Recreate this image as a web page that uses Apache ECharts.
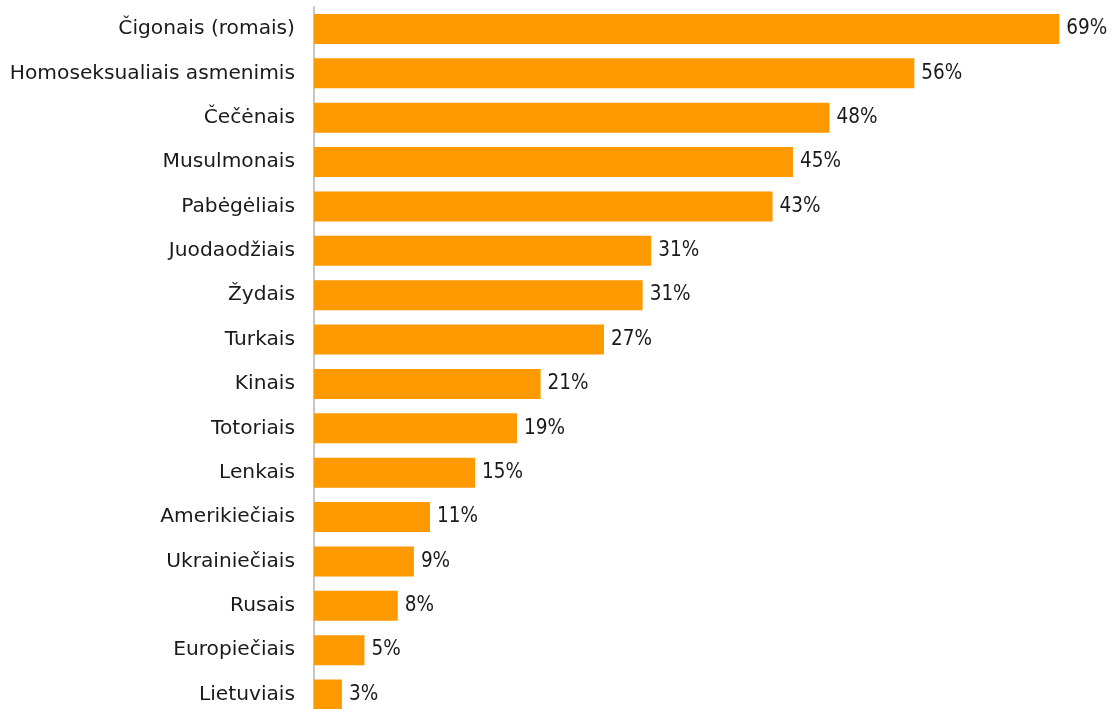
<!DOCTYPE html>
<html>
<head>
<meta charset="utf-8">
<script src="https://cdn.jsdelivr.net/npm/echarts@6/dist/echarts.min.js"></script>
<style>
html,body{margin:0;padding:0;background:#fff;}
#chart{width:1112px;height:709px;}
</style>
</head>
<body>
<div id="chart"></div>
<script>
var categories = ["Čigonais (romais)","Homoseksualiais asmenimis","Čečėnais","Musulmonais","Pabėgėliais","Juodaodžiais","Žydais","Turkais","Kinais","Totoriais","Lenkais","Amerikiečiais","Ukrainiečiais","Rusais","Europiečiais","Lietuviais"];
var values = [69.4,55.9,48.0,44.6,42.7,31.4,30.6,27.0,21.1,18.9,15.0,10.8,9.3,7.8,4.7,2.6];

var chart = echarts.init(document.getElementById('chart'), null, {renderer:'canvas'});
chart.setOption({
  animation:false,
  backgroundColor:'#fff',
  grid:{left:314, top:6.7, width:751.8, height:710, outerBoundsMode:'none', containLabel:false},
  xAxis:{type:'value', min:0, max:70, show:false},
  yAxis:{
    type:'category', data:categories, inverse:true,
    axisLine:{show:true, lineStyle:{color:'#b3b3b3', width:1.5}},
    axisTick:{show:false},
    axisLabel:{color:'#1a1a1a', fontFamily:'DejaVu Sans', fontSize:20.2, margin:19}
  },
  series:[{
    type:'bar', data:values, barWidth:30,
    itemStyle:{color:'#FF9900'},
    label:{show:true, position:'right', distance:7, color:'#1a1a1a', fontFamily:'DejaVu Sans Condensed', fontSize:20.5,
      formatter:function(p){return Math.round(p.value)+'%';}}
  }]
});
</script>
</body>
</html>
